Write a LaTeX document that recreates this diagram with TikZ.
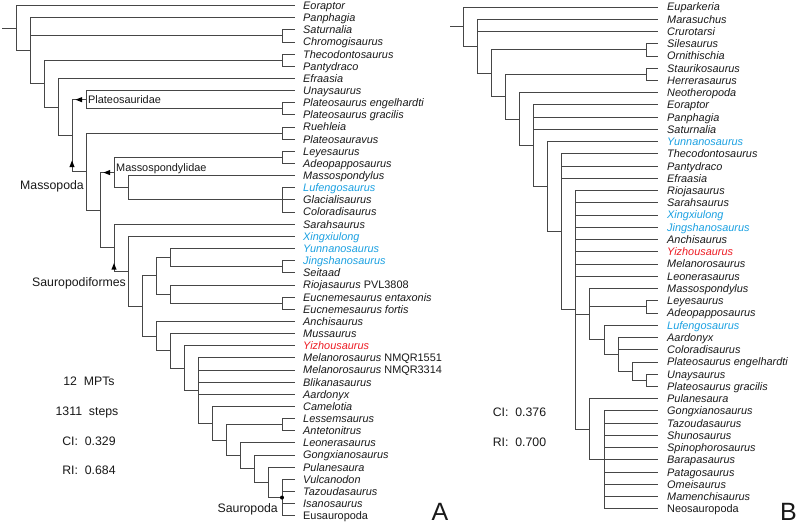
\documentclass[tikz,border=0pt]{standalone}
\usepackage{fontspec}
\setmainfont{Liberation Sans}
\usetikzlibrary{calc}
\definecolor{ln}{RGB}{70,70,70}
\definecolor{tx}{RGB}{25,25,25}
\definecolor{bl}{RGB}{27,161,226}
\definecolor{rd}{RGB}{237,28,36}
\newcommand{\cladeAt}[4]{\pgfmathsetmacro\tmpy{0.5*(\csname Y#3\endcsname+\csname Y#4\endcsname)}%
  \expandafter\xdef\csname Y#1\endcsname{\tmpy}\coordinate (#1) at (#2,\tmpy);}
\newcommand{\tipA}[4][tx]{\pgfmathsetmacro\tmpy{5.5+12.15*(#3-1)}%
  \expandafter\xdef\csname Y#2\endcsname{\tmpy}\coordinate (#2) at (295,\tmpy);
  \node[taxon,text=#1] (#2L) at ([xshift=8pt,yshift=-3.9pt]#2) {#4};}
\newcommand{\tipB}[4][tx]{\pgfmathsetmacro\tmpy{7+12.24*(#3-1)}%
  \expandafter\xdef\csname Y#2\endcsname{\tmpy}\coordinate (#2) at (658,\tmpy);
  \node[taxon,text=#1] (#2L) at ([xshift=9pt,yshift=-3.9pt]#2) {#4};}
\tikzset{
  taxon/.style={anchor=base west,inner sep=0pt,font=\fontsize{10.9}{13}\selectfont\itshape},
  br/.style={draw=ln,line width=0.9pt},
  headfill/.style={fill=black},
  cladelab/.style={inner sep=0pt,text=tx,font=\fontsize{10.9}{13}\selectfont},
  biglab/.style={inner sep=0pt,text=tx,font=\fontsize{12.3}{14}\selectfont},
  panel/.style={inner sep=0pt,text=tx,font=\fontsize{25}{28}\selectfont}
}
\begin{document}
\begin{tikzpicture}[x=1pt,y=-1pt]
\fill[white] (0,0) rectangle (800,525);
\useasboundingbox (0,0) rectangle (800,525);
% ---------------- Tree A tips
\tipA{aEor}{1}{Eoraptor}
\tipA{aPan}{2}{Panphagia}
\tipA{aSat}{3}{Saturnalia}
\tipA{aChr}{4}{Chromogisaurus}
\tipA{aThe}{5}{Thecodontosaurus}
\tipA{aPty}{6}{Pantydraco}
\tipA{aEfr}{7}{Efraasia}
\tipA{aUna}{8}{Unaysaurus}
\tipA{aPle}{9}{Plateosaurus engelhardti}
\tipA{aPlg}{10}{Plateosaurus gracilis}
\tipA{aRue}{11}{Ruehleia}
\tipA{aPlv}{12}{Plateosauravus}
\tipA{aLey}{13}{Leyesaurus}
\tipA{aAde}{14}{Adeopapposaurus}
\tipA{aMas}{15}{Massospondylus}
\tipA[bl]{aLuf}{16}{Lufengosaurus}
\tipA{aGla}{17}{Glacialisaurus}
\tipA{aCol}{18}{Coloradisaurus}
\tipA{aSar}{19}{Sarahsaurus}
\tipA[bl]{aXin}{20}{Xingxiulong}
\tipA[bl]{aYun}{21}{Yunnanosaurus}
\tipA[bl]{aJin}{22}{Jingshanosaurus}
\tipA{aSei}{23}{Seitaad}
\tipA{aRio}{24}{Riojasaurus \upshape PVL3808}
\tipA{aEue}{25}{Eucnemesaurus entaxonis}
\tipA{aEuf}{26}{Eucnemesaurus fortis}
\tipA{aAnc}{27}{Anchisaurus}
\tipA{aMus}{28}{Mussaurus}
\tipA[rd]{aYiz}{29}{Yizhousaurus}
\tipA{aMeA}{30}{Melanorosaurus \upshape NMQR1551}
\tipA{aMeB}{31}{Melanorosaurus \upshape NMQR3314}
\tipA{aBli}{32}{Blikanasaurus}
\tipA{aAar}{33}{Aardonyx}
\tipA{aCam}{34}{Camelotia}
\tipA{aLes}{35}{Lessemsaurus}
\tipA{aAnt}{36}{Antetonitrus}
\tipA{aLeo}{37}{Leonerasaurus}
\tipA{aGon}{38}{Gongxianosaurus}
\tipA{aPul}{39}{Pulanesaura}
\tipA{aVul}{40}{Vulcanodon}
\tipA{aTaz}{41}{Tazoudasaurus}
\tipA{aIsa}{42}{Isanosaurus}
\tipA{aEus}{43}{\upshape Eusauropoda}
% cherries
\cladeAt{cSat}{282}{aSat}{aChr}
\cladeAt{cThe}{282}{aThe}{aPty}
\cladeAt{cPl}{282}{aPle}{aPlg}
\cladeAt{cRue}{282}{aRue}{aPlv}
\cladeAt{cLey}{282}{aLey}{aAde}
\cladeAt{cLuf}{282}{aLuf}{aCol}
\cladeAt{cJin}{282}{aJin}{aSei}
\cladeAt{cEuc}{282}{aEue}{aEuf}
\cladeAt{cLes}{282}{aLes}{aAnt}
\cladeAt{A19}{282}{aVul}{aEus}
% internal nodes
\cladeAt{A18}{268}{aPul}{A19}
\cladeAt{A17}{254}{aGon}{A18}
\cladeAt{A16}{240}{aLeo}{A17}
\cladeAt{A15}{226}{cLes}{A16}
\cladeAt{A14}{212}{aCam}{A15}
\cladeAt{A13}{198}{aMeA}{A14}
\cladeAt{A12}{184}{aYiz}{A13}
\cladeAt{A11c}{170}{aMus}{A12}
\cladeAt{A10b}{156}{aAnc}{A11c}
\cladeAt{A11b}{170}{aRio}{cEuc}
\cladeAt{A11a}{170}{aYun}{cJin}
\cladeAt{A10a}{156}{A11a}{A11b}
\cladeAt{A9}{142}{A10a}{A10b}
\cladeAt{A8b}{128}{aXin}{A9}
\cladeAt{A7b}{114}{aSar}{A8b}
\cladeAt{A8a}{128}{aMas}{cLuf}
\cladeAt{A7a}{114}{cLey}{A8a}
\cladeAt{A6}{100}{A7a}{A7b}
\cladeAt{A5b}{86}{cRue}{A6}
\cladeAt{A5a}{86}{aUna}{cPl}
\cladeAt{A4}{72}{A5a}{A5b}
\cladeAt{A3}{58}{aEfr}{A4}
\cladeAt{A2}{44}{cThe}{A3}
\cladeAt{A1}{30}{aPan}{A2}
\cladeAt{A0}{16}{aEor}{A1}
\coordinate (aLeft) at (2,0);
\draw[br] (A0) -- (A0 -| aLeft);
\foreach \p/\c in {A0/aEor,A0/A1,A1/aPan,A1/cSat,A1/A2,cSat/aSat,cSat/aChr,
  A2/cThe,A2/A3,cThe/aThe,cThe/aPty,A3/aEfr,A3/A4,A4/A5a,A4/A5b,A5a/aUna,A5a/cPl,cPl/aPle,cPl/aPlg,
  A5b/cRue,A5b/A6,cRue/aRue,cRue/aPlv,A6/A7a,A6/A7b,A7a/cLey,A7a/A8a,cLey/aLey,cLey/aAde,
  A8a/aMas,A8a/cLuf,cLuf/aLuf,cLuf/aGla,cLuf/aCol,A7b/aSar,A7b/A8b,A8b/aXin,A8b/A9,
  A9/A10a,A9/A10b,A10a/A11a,A10a/A11b,A11a/aYun,A11a/cJin,cJin/aJin,cJin/aSei,
  A11b/aRio,A11b/cEuc,cEuc/aEue,cEuc/aEuf,A10b/aAnc,A10b/A11c,A11c/aMus,A11c/A12,
  A12/aYiz,A12/A13,A13/aMeA,A13/aMeB,A13/aBli,A13/aAar,A13/A14,A14/aCam,A14/A15,
  A15/cLes,A15/A16,cLes/aLes,cLes/aAnt,A16/aLeo,A16/A17,A17/aGon,A17/A18,
  A18/aPul,A18/A19,A19/aVul,A19/aTaz,A19/aIsa,A19/aEus}
  \draw[br] (\p) |- (\c);
% stem-based arrowheads
\coordinate (hPlat) at ($(A5a -| A4)+(3.5,0)$);
\coordinate (hMpod) at ($(A5b -| A4)+(0,-11)$);
\coordinate (hMass) at ($(A7a -| A6)+(3.5,0)$);
\coordinate (hSfor) at ($(A8b -| A7b)+(0,-8)$);
\fill[headfill] (hPlat) -- ++(6.5,-2.6) -- ++(0,5.2) -- cycle;
\fill[headfill] (hMass) -- ++(6.5,-2.6) -- ++(0,5.2) -- cycle;
\fill[headfill] (hMpod) -- ++(-2.6,6.5) -- ++(5.2,0) -- cycle;
\fill[headfill] (hSfor) -- ++(-2.6,6.5) -- ++(5.2,0) -- cycle;
\fill[black] (A19) circle (2pt);
% clade labels A
\node[cladelab,anchor=base west] (lPlat) at (88,103) {Plateosauridae};
\node[cladelab,anchor=base west] (lMass) at (116,171) {Massospondylidae};
\node[biglab,anchor=base west] (lMpod) at (20,189.5) {Massopoda};
\node[biglab,anchor=base west] (lSfor) at (32,286.5) {Sauropodiformes};
\node[biglab,anchor=base east] (lSaur) at (278,512.5) {Sauropoda};
% stats A
\node[biglab,anchor=base] (sA1) at (89,385.5) {12~~MPTs};
\node[biglab,anchor=base] (sA2) at (87,415.5) {1311~~steps};
\node[biglab,anchor=base] (sA3) at (89,445.5) {CI:~~0.329};
\node[biglab,anchor=base] (sA4) at (89,474.5) {RI:~~0.684};
\node[panel,anchor=base] (pA) at (440,520) {A};
% ---------------- Tree B tips
\tipB{bEup}{1}{Euparkeria}
\tipB{bMar}{2}{Marasuchus}
\tipB{bCru}{3}{Crurotarsi}
\tipB{bSil}{4}{Silesaurus}
\tipB{bOrn}{5}{Ornithischia}
\tipB{bSta}{6}{Staurikosaurus}
\tipB{bHer}{7}{Herrerasaurus}
\tipB{bNeo}{8}{Neotheropoda}
\tipB{bEor}{9}{Eoraptor}
\tipB{bPan}{10}{Panphagia}
\tipB{bSat}{11}{Saturnalia}
\tipB[bl]{bYun}{12}{Yunnanosaurus}
\tipB{bThe}{13}{Thecodontosaurus}
\tipB{bPty}{14}{Pantydraco}
\tipB{bEfr}{15}{Efraasia}
\tipB{bRio}{16}{Riojasaurus}
\tipB{bSar}{17}{Sarahsaurus}
\tipB[bl]{bXin}{18}{Xingxiulong}
\tipB[bl]{bJin}{19}{Jingshanosaurus}
\tipB{bAnc}{20}{Anchisaurus}
\tipB[rd]{bYiz}{21}{Yizhousaurus}
\tipB{bMel}{22}{Melanorosaurus}
\tipB{bLeo}{23}{Leonerasaurus}
\tipB{bMas}{24}{Massospondylus}
\tipB{bLey}{25}{Leyesaurus}
\tipB{bAde}{26}{Adeopapposaurus}
\tipB[bl]{bLuf}{27}{Lufengosaurus}
\tipB{bAar}{28}{Aardonyx}
\tipB{bCol}{29}{Coloradisaurus}
\tipB{bPle}{30}{Plateosaurus engelhardti}
\tipB{bUna}{31}{Unaysaurus}
\tipB{bPlg}{32}{Plateosaurus gracilis}
\tipB{bPul}{33}{Pulanesaura}
\tipB{bGon}{34}{Gongxianosaurus}
\tipB{bTaz}{35}{Tazoudasaurus}
\tipB{bShu}{36}{Shunosaurus}
\tipB{bSpi}{37}{Spinophorosaurus}
\tipB{bBar}{38}{Barapasaurus}
\tipB{bPat}{39}{Patagosaurus}
\tipB{bOme}{40}{Omeisaurus}
\tipB{bMam}{41}{Mamenchisaurus}
\tipB{bNes}{42}{\upshape Neosauropoda}
\cladeAt{cSil}{646.3}{bSil}{bOrn}
\cladeAt{cSta}{646.3}{bSta}{bHer}
\cladeAt{cLeyB}{646.3}{bLey}{bAde}
\cladeAt{cUna}{646.3}{bUna}{bPlg}
\cladeAt{B12}{632.2}{bPle}{cUna}
\cladeAt{B11}{618.1}{bAar}{B12}
\cladeAt{B10a}{604}{bLuf}{B11}
\cladeAt{B9a}{589.9}{bMas}{B10a}
\cladeAt{B10b}{604}{bGon}{bNes}
\cladeAt{B9b}{589.9}{bPul}{B10b}
\cladeAt{B8}{575.8}{bRio}{B9b}
\cladeAt{B7}{561.7}{bThe}{B8}
\cladeAt{B6}{547.6}{bYun}{B7}
\cladeAt{B5}{533.5}{bEor}{B6}
\cladeAt{B4}{519.4}{bNeo}{B5}
\cladeAt{B3}{505.3}{cSta}{B4}
\cladeAt{B2}{491.2}{cSil}{B3}
\cladeAt{B1}{477.1}{bMar}{B2}
\cladeAt{B0}{463}{bEup}{B1}
\coordinate (bLeft) at (450,0);
\draw[br] (B0) -- (B0 -| bLeft);
\foreach \p/\c in {B0/bEup,B0/B1,B1/bMar,B1/bCru,B1/B2,B2/cSil,B2/B3,cSil/bSil,cSil/bOrn,
  B3/cSta,B3/B4,cSta/bSta,cSta/bHer,B4/bNeo,B4/B5,B5/bEor,B5/bPan,B5/bSat,B5/B6,
  B6/bYun,B6/B7,B7/bThe,B7/bPty,B7/bEfr,B7/B8,B8/bRio,B8/bSar,B8/bXin,B8/bJin,B8/bAnc,
  B8/bYiz,B8/bMel,B8/bLeo,B8/B9a,B8/B9b,B9a/bMas,B9a/cLeyB,B9a/B10a,cLeyB/bLey,cLeyB/bAde,
  B10a/bLuf,B10a/B11,B11/bAar,B11/bCol,B11/B12,B12/bPle,B12/cUna,cUna/bUna,cUna/bPlg,
  B9b/bPul,B9b/B10b,B10b/bGon,B10b/bTaz,B10b/bShu,B10b/bSpi,B10b/bBar,B10b/bPat,
  B10b/bOme,B10b/bMam,B10b/bNes}
  \draw[br] (\p) |- (\c);
\node[biglab,anchor=base] (sB1) at (519.5,416.5) {CI:~~0.376};
\node[biglab,anchor=base] (sB2) at (519.5,446.5) {RI:~~0.700};
\node[panel,anchor=base] (pB) at (788.5,520) {B};
\end{tikzpicture}
\end{document}
